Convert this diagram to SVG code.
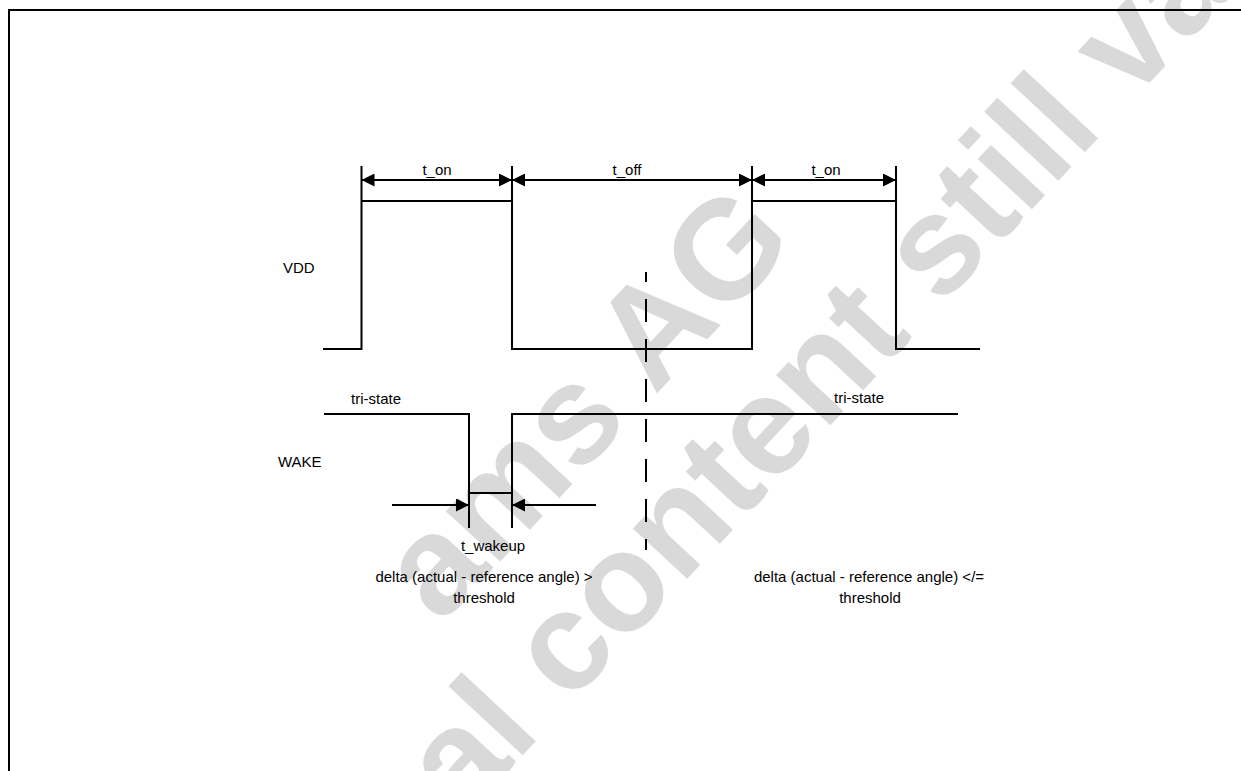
<svg xmlns="http://www.w3.org/2000/svg" width="1241" height="771" viewBox="0 0 1241 771">
  <style>
    .sig { fill: none; stroke: #000; stroke-width: 2; }
    .lbl { font-family: "Liberation Sans", Arial, sans-serif; font-size: 15px; fill: #000; }
    .wm { font-family: "Liberation Sans", Arial, sans-serif; font-weight: bold; font-size: 140px; fill: #d9d9d9; }
  </style>
  <defs>
    <marker id="ah" markerUnits="userSpaceOnUse" markerWidth="13" markerHeight="13" refX="13" refY="6.5" orient="auto-start-reverse">
      <path d="M0,0 L13,6.5 L0,13 Z" fill="#000"/>
    </marker>
  </defs>
  <rect width="1241" height="771" fill="#fff"/>

  <!-- watermark -->
  <g id="watermark">
    <text class="wm" text-anchor="middle" transform="translate(619,434) rotate(-47)">ams AG</text>
    <text class="wm" text-anchor="middle" transform="translate(729,534) rotate(-47)">Technical content still valid</text>
  </g>

  <!-- frame -->
  <rect id="frame" x="9" y="10" width="1400" height="900" fill="none" stroke="#000" stroke-width="2"/>

  <g id="vdd">
    <path class="sig" d="M323,349 H361.5 V166 M361.5,201 H512 M512,166 V349 H752 V166 M752,201 H896 M896,166 V349 H980"/>
    <text class="lbl" x="283" y="272.5">VDD</text>
  </g>

  <g id="wake">
    <path class="sig" d="M324,414 H469 V528 M469,493 H512 M512,528 V414 H958"/>
    <text class="lbl" x="278" y="467">WAKE</text>
    <text class="lbl" x="376" y="403.5" text-anchor="middle">tri-state</text>
    <text class="lbl" x="859" y="403" text-anchor="middle">tri-state</text>
  </g>

  <g id="connectors">
    <line class="sig" x1="361.5" y1="180" x2="512" y2="180" marker-start="url(#ah)" marker-end="url(#ah)"/>
    <line class="sig" x1="512" y1="180" x2="752" y2="180" marker-start="url(#ah)" marker-end="url(#ah)"/>
    <line class="sig" x1="752" y1="180" x2="896" y2="180" marker-start="url(#ah)" marker-end="url(#ah)"/>
    <line class="sig" x1="392" y1="505" x2="469" y2="505" marker-end="url(#ah)"/>
    <line class="sig" x1="596" y1="505" x2="512" y2="505" marker-end="url(#ah)"/>
    <line class="sig" x1="646" y1="272" x2="646" y2="550" stroke-dasharray="23 17" stroke-dashoffset="13"/>
  </g>

  <g id="labels">
    <text class="lbl" x="437" y="175" text-anchor="middle">t_on</text>
    <text class="lbl" x="627" y="175" text-anchor="middle">t_off</text>
    <text class="lbl" x="826" y="175" text-anchor="middle">t_on</text>
    <text class="lbl" x="493" y="551" text-anchor="middle">t_wakeup</text>
    <text class="lbl" x="484" y="582" text-anchor="middle">delta (actual - reference angle) &gt;</text>
    <text class="lbl" x="484" y="603" text-anchor="middle">threshold</text>
    <text class="lbl" x="869" y="582" text-anchor="middle">delta (actual - reference angle) &lt;/=</text>
    <text class="lbl" x="870" y="603" text-anchor="middle">threshold</text>
  </g>
</svg>
